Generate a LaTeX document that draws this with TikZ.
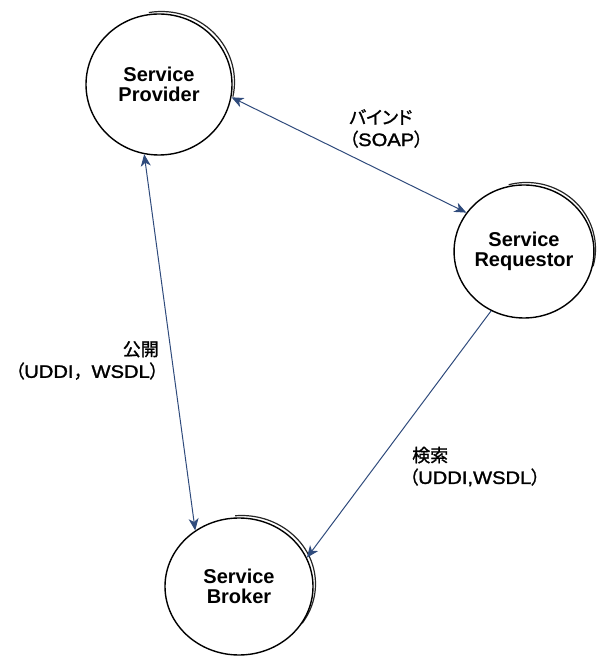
\documentclass[tikz,border=0pt]{standalone}
\usepackage{fontspec}
\setmainfont{Liberation Sans}
\newfontfamily\jp{Noto Sans CJK JP}[RawFeature=+palt, FakeBold=1.2]
\newfontfamily\jpfull{Noto Sans CJK JP}[FakeBold=1.2]
\newfontfamily\lab{Liberation Sans}[FakeStretch=1.12, FakeBold=1.5]
\usetikzlibrary{shapes.geometric,arrows.meta}
\definecolor{arrowblue}{HTML}{2F4B7C}
\newcommand{\jlp}{{\jp （}}
\newcommand{\jrp}{{\jp ）}}
\tikzset{
  actor/.style={ellipse, draw=black, line width=1.4pt, inner sep=0pt,
    align=center, font=\fontsize{20}{20}\selectfont\bfseries},
  outerarc/.style={draw=black!85, line width=1.2pt},
  link/.style={draw=arrowblue, line width=1pt},
  tip/.style={-{Stealth[length=12pt,width=10pt,inset=3.5pt]}},
  bitip/.style={{Stealth[length=12pt,width=10pt,inset=3.5pt]}-{Stealth[length=12pt,width=10pt,inset=3.5pt]}},
  lbl/.style={inner sep=0pt, font=\fontsize{18}{22}\selectfont\lab}
}
\begin{document}
\begin{tikzpicture}[x=1pt,y=1pt]
\path[use as bounding box] (0,0) rectangle (600,656);
% outer (second) arcs
\draw[outerarc] (161.5,574) ++(100:73 and 70.5) arc[start angle=100, end angle=-12, x radius=73, y radius=70.5];
\draw[outerarc] (526.5,407) ++(105:69 and 66.5) arc[start angle=105, end angle=-15, x radius=69, y radius=66.5];
\draw[outerarc] (241.5,72) ++(95:74 and 68.5) arc[start angle=95, end angle=-35, x radius=74, y radius=68.5];
% main circles
\node[actor, minimum width=146pt, minimum height=141pt] (P) at (159,571.5) {Service\\Provider};
\node[actor, minimum width=138pt, minimum height=133pt] (R) at (524,404.5) {Service\\Requestor};
\node[actor, minimum width=148pt, minimum height=137pt] (B) at (239,69.5) {Service\\Broker};
% connectors
\draw[link, bitip] (P.-10.3) -- (R.146.9);
\draw[link, bitip] (P.-102.4) -- (B.128.2);
\draw[link, tip] (R.-119.3) -- (B.23.3);
% labels
\node[lbl, anchor=west, align=left] (l1) at (349,527.5) {{\jp バインド}\\\jlp SOAP\jrp};
\node[lbl, anchor=east, align=right] (l2) at (159,295.5) {{\jp 公開}\\\jlp UDDI{\jpfull ，}WSDL\jrp};
\node[lbl, anchor=west, align=left] (l3) at (409,189.5) {\hspace*{3pt}{\jp 検索}\\\jlp UDDI,WSDL\jrp};
\end{tikzpicture}
\end{document}
